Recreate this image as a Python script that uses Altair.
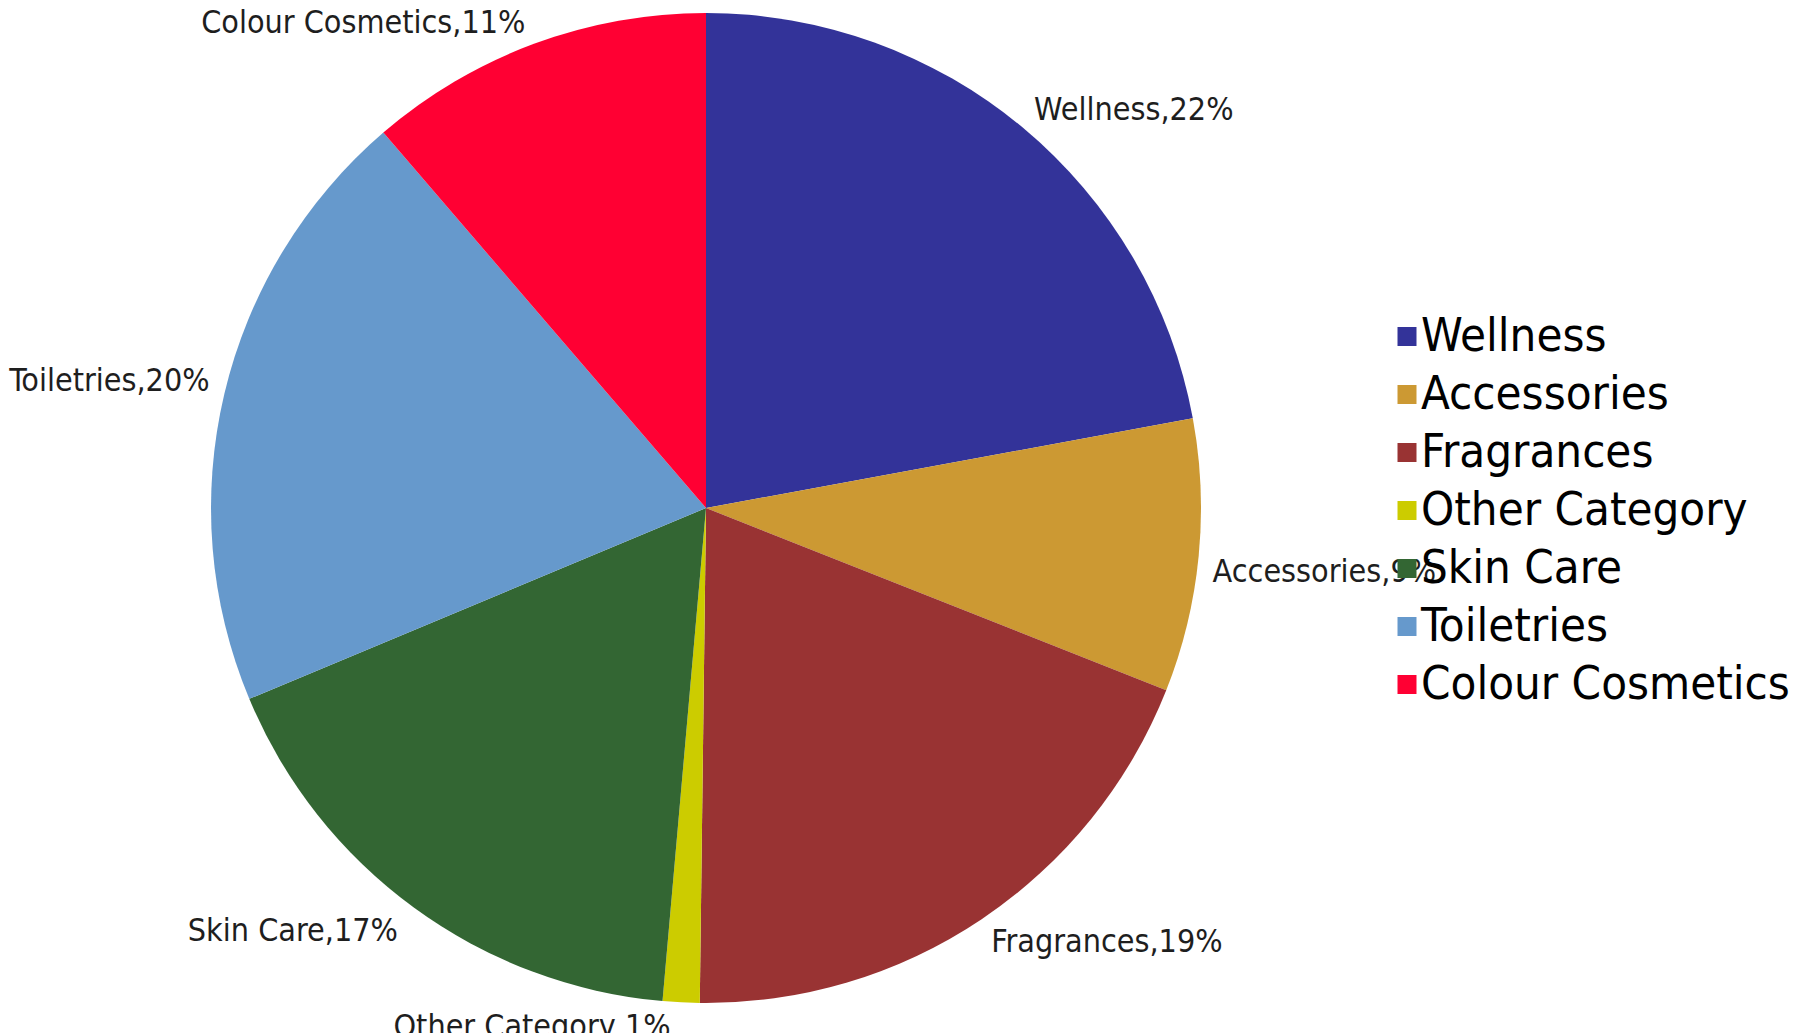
import altair as alt
import pandas as pd

categories = ["Wellness", "Accessories", "Fragrances", "Other Category",
              "Skin Care", "Toiletries", "Colour Cosmetics"]
values = [22.1, 8.9, 19.2, 1.2, 17.3, 20.0, 11.3]
colors = ["#333399", "#CC9933", "#993333", "#CCCC00", "#336633", "#6699CC", "#FF0033"]

df = pd.DataFrame({"category": categories, "value": values, "idx": list(range(len(categories)))})

FONT = "DejaVu Sans Condensed, Liberation Sans, sans-serif"

base = alt.Chart(df)

color = alt.Color(
    "category:N",
    scale=alt.Scale(domain=categories, range=colors),
    legend=alt.Legend(
        title=None, orient="none", legendX=1163, legendY=300,
        symbolType="M0,-1L2,-1L2,1L0,1Z", symbolSize=361, symbolStrokeWidth=0,
        labelFontSize=47, labelFont=FONT, labelColor="#000000",
        labelOffset=0, rowPadding=10, padding=0, labelLimit=600,
    ),
)

arcs = base.mark_arc().encode(
    theta=alt.Theta("value:Q", stack=True),
    color=color,
    order=alt.Order("idx:Q"),
)

lab = (
    base.transform_window(cum="sum(value)", sort=[alt.SortField("idx")])
    .transform_joinaggregate(total="sum(value)")
    .transform_calculate(
        mid="datum.cum - datum.value / 2",
        frac="(datum.cum - datum.value / 2) / datum.total",
        label="datum.category + ',' + format(round(datum.value / datum.total * 100), 'd') + '%'",
    )
    .transform_calculate(
        quad="datum.frac < 0.25 ? 'TR' : (datum.frac < 0.5 ? 'BR' : (datum.frac < 0.75 ? 'BL' : 'TL'))"
    )
)

def text_layer(q, align, baseline, dx, dy):
    return lab.transform_filter(alt.datum.quad == q).mark_text(
        radius=505, align=align, baseline=baseline, dx=dx, dy=dy,
        fontSize=32, font=FONT, color="#1e1e1e",
    ).encode(
        theta=alt.Theta("mid:Q", stack=False),
        text="label:N",
    )

chart = alt.layer(
    arcs,
    text_layer("TR", "left", "bottom", 5, 7),
    text_layer("BR", "left", "top", 4, 0),
    text_layer("BL", "right", "top", -10, 0),
    text_layer("TL", "right", "bottom", -5, 6),
).properties(
    width=990, height=990,
    autosize=alt.AutoSizeParams(type="none"),
    padding={"left": 203, "top": 5, "right": 595, "bottom": 40},
).configure_view(stroke=None).configure(background="white")

chart.save("out.html", embed_options={"renderer": "svg", "actions": False})
